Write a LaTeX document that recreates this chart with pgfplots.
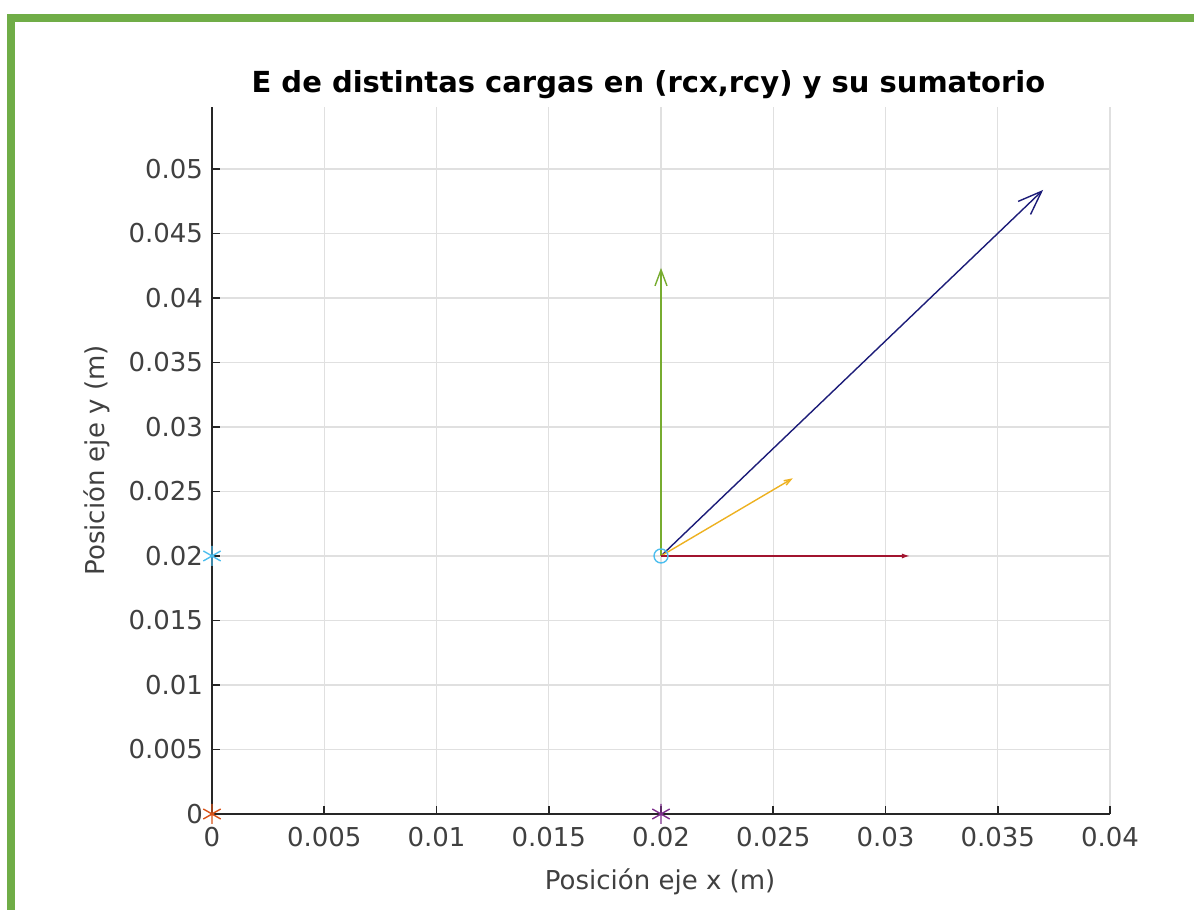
\documentclass[border=0pt]{standalone}
\usepackage{fontspec}
\setmainfont{DejaVu Sans}
\usepackage{pgfplots}
\pgfplotsset{compat=1.18}
\usetikzlibrary{arrows.meta}

\definecolor{framegreen}{HTML}{70AD47}
\definecolor{sumblue}{HTML}{1C1C78}
\definecolor{egreen}{HTML}{77AC30}
\definecolor{eyellow}{HTML}{EDB120}
\definecolor{ered}{HTML}{A2142F}
\definecolor{qcyan}{HTML}{4DBEEE}
\definecolor{qorange}{HTML}{D95319}
\definecolor{qpurple}{HTML}{7E2F8E}
\definecolor{axgray}{HTML}{262626}
\definecolor{lblgray}{HTML}{404040}

\begin{document}
\begin{tikzpicture}
\useasboundingbox (0pt,0pt) rectangle (597pt,455pt);
% green frame (only left and top edges are visible)
\draw[line width=4pt, framegreen] (5.5pt,-10pt) -- (5.5pt,446pt) -- (610pt,446pt);
\begin{axis}[
    at={(106pt,48pt)}, anchor=south west,
    scale only axis, width=449pt, height=353.5pt,
    xmin=0, xmax=0.04, ymin=0, ymax=0.0548,
    xtick={0,0.005,0.01,0.015,0.02,0.025,0.03,0.035,0.04},
    ytick={0,0.005,0.01,0.015,0.02,0.025,0.03,0.035,0.04,0.045,0.05},
    scaled ticks=false,
    xticklabel={\pgfmathprintnumber[fixed,precision=3,assume math mode=true]{\tick}},
    yticklabel={\pgfmathprintnumber[fixed,precision=3,assume math mode=true]{\tick}},
    axis x line*=bottom, axis y line*=left,
    axis line style={-, axgray, line width=0.9pt},
    tick align=inside, major tick length=4pt,
    tick style={axgray, line width=0.8pt},
    grid=major, grid style={black!12, line width=0.6pt},
    ticklabel style={font=\fontsize{13}{15}\selectfont, text=lblgray},
    xticklabel style={yshift=-3pt},
    yticklabel style={xshift=-1pt},
    title={E de distintas cargas en (rcx,rcy) y su sumatorio},
    title style={font=\bfseries\fontsize{14.5}{16}\selectfont, at={(axis description cs:0.486,1)}, anchor=center, yshift=5pt},
    xlabel={Posición eje x (m)},
    ylabel={Posición eje y (m)},
    label style={font=\fontsize{13}{15}\selectfont, text=lblgray},
    xlabel style={at={(axis description cs:0.499,-0.096)}, anchor=center},
    ylabel style={at={(axis description cs:-0.128,0.5)}, anchor=center},
    clip=false,
]
% sum of fields
\addplot[quiver={u=\thisrow{u},v=\thisrow{v}}, sumblue, line width=0.7pt,
    -{Straight Barb[length=12pt,width=9pt]}] table {
x y u v
0.02 0.02 0.01702 0.02837
};
% field of each charge
\addplot[quiver={u=\thisrow{u},v=\thisrow{v}}, egreen, line width=0.7pt,
    -{Straight Barb[length=8pt,width=6pt]}] table {
x y u v
0.02 0.02 0 0.02233
};
\addplot[quiver={u=\thisrow{u},v=\thisrow{v}}, eyellow, line width=0.7pt,
    -{Straight Barb[length=3.5pt,width=2.5pt]}] table {
x y u v
0.02 0.02 0.00587 0.00602
};
\addplot[quiver={u=\thisrow{u},v=\thisrow{v}}, ered, line width=0.7pt,
    -{Latex[length=4pt,width=2.5pt]}] table {
x y u v
0.02 0.02 0.01109 0
};
% charges
\addplot[only marks, mark=asterisk, mark size=5pt, qcyan, line width=0.7pt] coordinates {(0,0.02)};
\addplot[only marks, mark=asterisk, mark size=5pt, qorange, line width=0.7pt] coordinates {(0,0)};
\addplot[only marks, mark=asterisk, mark size=5pt, qpurple, line width=0.7pt] coordinates {(0.02,0)};
% observation point
\addplot[only marks, mark=o, mark size=3.5pt, qcyan, line width=0.7pt] coordinates {(0.02,0.02)};
\end{axis}
\end{tikzpicture}
\end{document}
